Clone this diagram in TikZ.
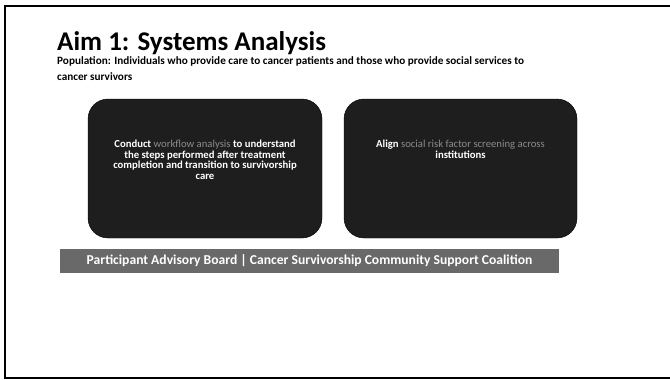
\documentclass[tikz,border=0pt]{standalone}
\usepackage{fontspec}
\setmainfont{Carlito}
\usetikzlibrary{positioning}

\definecolor{boxfill}{HTML}{1E1E1E}
\definecolor{barfill}{HTML}{696969}
\definecolor{softgray}{HTML}{8C8C8C}

\tikzset{
    aimbox/.style = {fill = boxfill, rounded corners = 20pt},
    aimtext/.style = {text = white, align = center, inner sep = 0pt, anchor = north,
        font = \fontsize{10.7}{10.8}\selectfont\bfseries},
}

\begin{document}
\begin{tikzpicture}[x = 1pt, y = -1pt]
        \useasboundingbox (0,0) rectangle (670,380);
        \draw [line width = 1.6pt] (672,6) -- (5,6) -- (5,378) -- (672,378);

        \node (title) at (57, 50.5) [anchor = base west, inner sep = 0pt, font = \fontsize{27}{30}\selectfont\bfseries]
            {Aim 1: Systems Analysis};
        \node (population) [below = 6pt of title.base west, anchor = north west, inner sep = 0pt, align = left,
            font = \fontsize{11.2}{15.8}\selectfont\bfseries]
            {Population: Individuals who provide care to cancer patients and those who provide social services to\\cancer survivors};

        \draw [aimbox] (88,99) rectangle (322,238);
        \draw [aimbox] (344,99) rectangle (577,238);

        \node (workflow) at (205, 139.5) [aimtext]
            {Conduct {\mdseries\color{softgray}workflow analysis} to understand\\the steps performed after treatment\\completion and transition to survivorship\\care};
        \node (screening) at (460.5, 139.5) [aimtext]
            {Align {\mdseries\color{softgray}social risk factor screening across}\\institutions};

        \fill [barfill] (60,249) rectangle (559,273);
        \node (board) at (309.5, 261) [text = white, inner sep = 0pt, font = \fontsize{13.6}{15}\selectfont\bfseries]
            {Participant Advisory Board | Cancer Survivorship Community Support Coalition};
    \end{tikzpicture}
\end{document}
